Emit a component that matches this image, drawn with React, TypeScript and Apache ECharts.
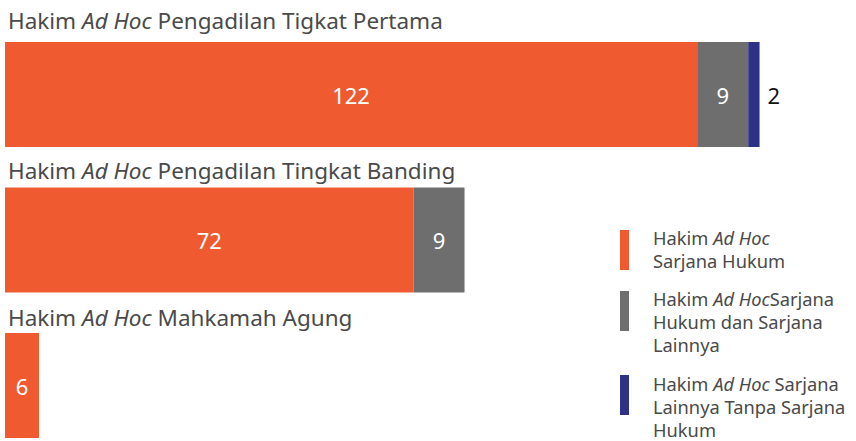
import React, { useEffect, useRef } from "react";
import * as echarts from "echarts";

const categories = [
  "Hakim Ad Hoc Pengadilan Tigkat Pertama",
  "Hakim Ad Hoc Pengadilan Tingkat Banding",
  "Hakim Ad Hoc Mahkamah Agung",
];
const seriesNames = [
  "Hakim Ad Hoc Sarjana Hukum",
  "Hakim Ad HocSarjana Hukum dan Sarjana Lainnya",
  "Hakim Ad Hoc Sarjana Lainnya Tanpa Sarjana Hukum",
];
const legendLines = [
  "Hakim Ad Hoc\nSarjana Hukum",
  "Hakim Ad HocSarjana\nHukum dan Sarjana\nLainnya",
  "Hakim Ad Hoc Sarjana\nLainnya Tanpa Sarjana\nHukum",
];
const sarjanaHukum = [122, 72, 6];
const hukumDanLainnya = [9, 9, 0];
const lainnyaTanpaHukum = [2, 0, 0];

const colors = ["#F05A30", "#6E6E6E", "#2E3287"];
const FONT = "'Noto Sans', sans-serif";
const TEXT_COLOR = "#4a4a4a";

const toRich = (s: string) => s.split("Ad Hoc").join("{i|Ad Hoc}");

export default function App() {
  const ref = useRef<HTMLDivElement>(null);
  useEffect(() => {
    if (!ref.current) return;
    const chart = echarts.init(ref.current, null, { renderer: "svg" });
    const hideZero = (p: any) => (p.value ? String(p.value) : "");
    const barLabel = {
      show: true,
      position: "inside",
      color: "#ffffff",
      fontSize: 22,
      fontFamily: FONT,
      formatter: hideZero,
    };
    const titleTops = [20, 170, 317];
    const legendRectTops = [230, 291, 375];
    const legendTextTops = [225.5, 286.5, 372];
    const graphics: any[] = [];
    categories.forEach((c, i) => {
      graphics.push({
        type: "text",
        x: 8,
        y: titleTops[i],
        style: {
          text: toRich(c),
          fontSize: 22.5,
          fontFamily: FONT,
          fill: TEXT_COLOR,
          verticalAlign: "middle",
          rich: { i: { fontStyle: "italic", fontSize: 22.5, fontFamily: FONT, fill: TEXT_COLOR } },
        },
      });
    });
    seriesNames.forEach((n, i) => {
      graphics.push({
        type: "rect",
        shape: { x: 620, y: legendRectTops[i], width: 9, height: 40 },
        style: { fill: colors[i] },
      });
      graphics.push({
        type: "text",
        x: 653,
        y: legendTextTops[i],
        style: {
          text: toRich(legendLines[i]),
          fontSize: 18.3,
          lineHeight: 23,
          fontFamily: FONT,
          fill: TEXT_COLOR,
          rich: {
            i: { fontStyle: "italic", fontSize: 18.3, lineHeight: 23, fontFamily: FONT, fill: TEXT_COLOR },
          },
        },
      });
    });

    chart.setOption({
      animation: false,
      grid: { left: 5, top: 94.5, width: 851, height: 291, containLabel: false },
      xAxis: {
        type: "value",
        min: 0,
        max: 150,
        show: false,
      },
      yAxis: {
        type: "category",
        data: categories,
        inverse: true,
        boundaryGap: false,
        show: false,
      },
      graphic: graphics,
      series: [
        {
          name: seriesNames[0],
          type: "bar",
          stack: "total",
          barWidth: 105,
          data: sarjanaHukum,
          itemStyle: { color: colors[0] },
          label: barLabel,
        },
        {
          name: seriesNames[1],
          type: "bar",
          stack: "total",
          barWidth: 105,
          data: hukumDanLainnya,
          itemStyle: { color: colors[1] },
          label: barLabel,
        },
        {
          name: seriesNames[2],
          type: "bar",
          stack: "total",
          barWidth: 105,
          data: lainnyaTanpaHukum,
          itemStyle: { color: colors[2] },
          label: {
            show: true,
            position: "right",
            distance: 8,
            color: "#111111",
            fontSize: 22,
            fontFamily: FONT,
            formatter: hideZero,
          },
        },
      ],
    });
    return () => chart.dispose();
  }, []);
  return (
    <div
      ref={ref}
      style={{ position: "absolute", left: 0, top: 0, width: 856, height: 441, background: "#fff" }}
    />
  );
}
